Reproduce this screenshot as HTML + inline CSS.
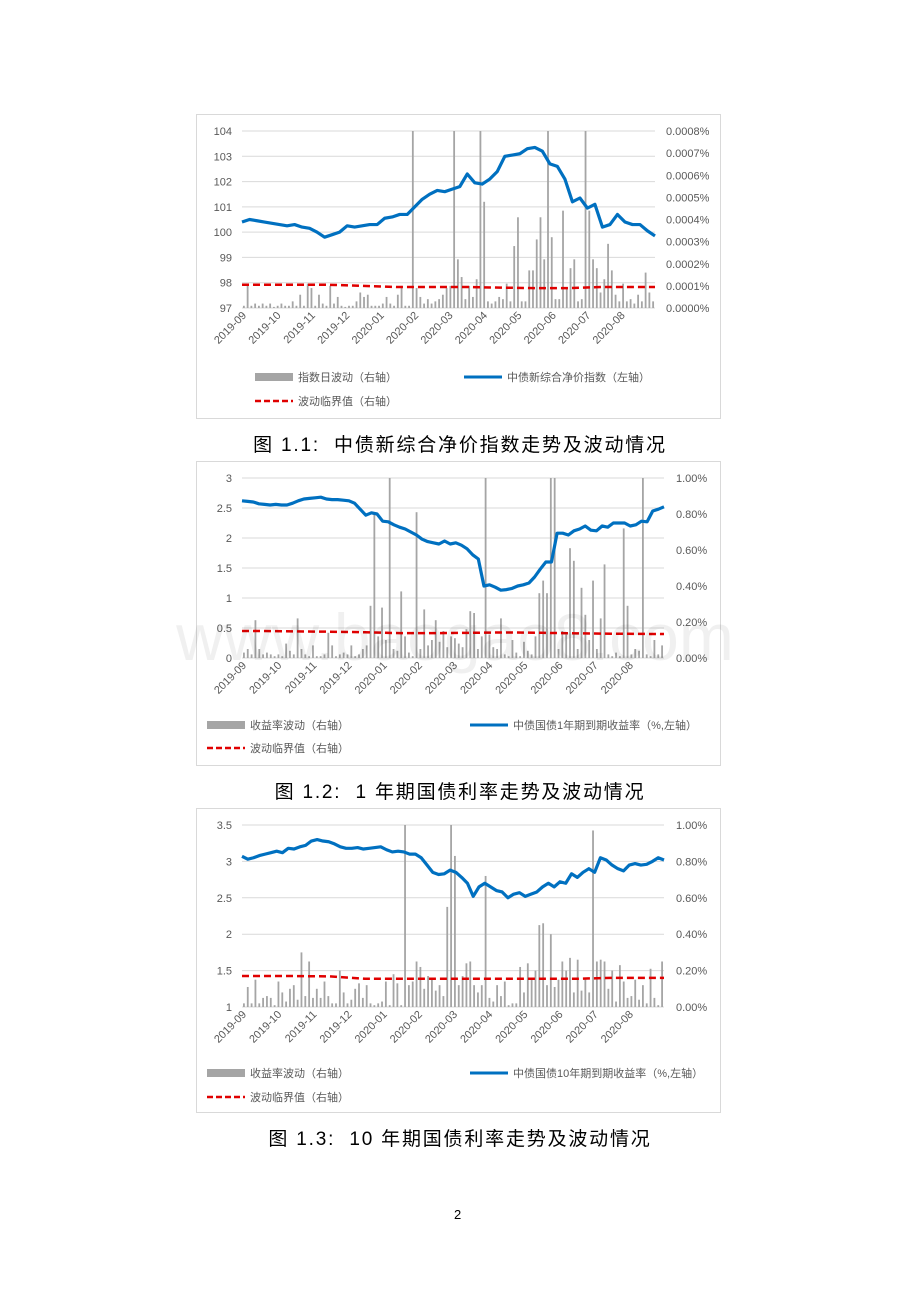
<!DOCTYPE html>
<html><head><meta charset="utf-8">
<style>
body{margin:0;background:#fff;width:920px;height:1302px;position:relative;overflow:hidden;font-family:"Liberation Sans","Noto Sans CJK SC",sans-serif;}
.box{position:absolute;left:196px;width:525px;height:305px;border:1px solid #d9d9d9;box-sizing:border-box;}
.cap{position:absolute;left:0;width:920px;text-align:center;font-size:19px;color:#000;font-family:"Liberation Sans","Noto Sans CJK SC",sans-serif;letter-spacing:1.8px;}
svg{position:absolute;left:0;top:0;}
</style></head><body>
<div class="box" style="top:114px"></div>
<div class="box" style="top:461px"></div>
<div class="box" style="top:808px"></div>
<div class="cap" style="top:430px">图 1.1:&nbsp; 中债新综合净价指数走势及波动情况</div>
<div class="cap" style="top:777px">图 1.2:&nbsp; 1 年期国债利率走势及波动情况</div>
<div class="cap" style="top:1124px">图 1.3:&nbsp; 10 年期国债利率走势及波动情况</div>
<div style="position:absolute;left:454px;top:1207px;font-size:13px">2</div>
<svg id="svg" width="920" height="1302"></svg>
<script>
const months=["2019-09","2019-10","2019-11","2019-12","2020-01","2020-02","2020-03","2020-04","2020-05","2020-06","2020-07","2020-08"];
const line1=[100.4,100.5,100.45,100.4,100.35,100.3,100.25,100.3,100.2,100.15,100.0,99.8,99.9,100.0,100.25,100.2,100.25,100.3,100.3,100.55,100.6,100.7,100.7,101.0,101.3,101.5,101.65,101.6,101.7,101.8,102.3,101.95,101.9,102.1,102.4,103.0,103.05,103.1,103.3,103.35,103.2,102.7,102.6,102.1,101.2,101.35,100.95,101.1,100.2,100.3,100.7,100.4,100.3,100.3,100.05,99.85];
const bars1=[0.1,1.1,0.1,0.2,0.1,0.2,0.1,0.2,0.05, 0.1,0.2,0.1,0.1,0.3,0.1,0.6,0.1,1.1, 0.9,0.1,0.6,0.2,0.1,1.0,0.2,0.5,0.1, 0.05,0.1,0.1,0.3,0.7,0.5,0.6,0.1,0.1, 0.1,0.2,0.5,0.2,0.1,0.6,1.0,0.1,0.1, 8,0.9,0.5,0.2,0.4,0.2,0.3,0.4,0.6, 0.9,1.0,8,2.2,1.4,0.4,1.0,0.5,1.3, 8,4.8,0.3,0.2,0.3,0.5,0.4,1.1,0.3, 2.8,4.1,0.3,0.3,1.7,1.7,3.1,4.1,2.2, 8,3.2,0.4,0.4,4.4,0.9,1.8,2.2,0.3, 0.4,8,4.4,2.2,1.8,0.7,1.3,2.9,1.7, 0.6,0.3,1.1,0.3,0.4,0.2,0.6,0.3,1.6,0.7,0.3];
const thr1=[1.05,1.05,1.05,1.0,0.95,0.95,0.95,0.92,0.9,0.9,0.95,0.95];
const leftTicks1=[97,98,99,100,101,102,103,104];
const rightTicks1=["0.0000%","0.0001%","0.0002%","0.0003%","0.0004%","0.0005%","0.0006%","0.0007%","0.0008%"];

const line2=[2.62,2.61,2.6,2.57,2.56,2.55,2.56,2.55,2.55,2.58,2.62,2.65,2.66,2.67,2.68,2.65,2.64,2.64,2.63,2.62,2.58,2.48,2.38,2.42,2.4,2.28,2.27,2.22,2.18,2.15,2.1,2.05,1.98,1.94,1.92,1.9,1.95,1.9,1.92,1.88,1.82,1.72,1.65,1.2,1.22,1.18,1.13,1.14,1.16,1.2,1.22,1.25,1.35,1.48,1.6,1.6,2.08,2.08,2.05,2.12,2.15,2.2,2.13,2.12,2.2,2.18,2.25,2.25,2.25,2.2,2.22,2.28,2.27,2.45,2.48,2.52];
const bars2=[0.03,0.05,0.02,0.21,0.05,0.02,0.03,0.02,0.01, 0.02,0.01,0.08,0.04,0.02,0.22,0.05,0.02,0.01, 0.07,0.01,0.01,0.02,0.14,0.07,0.01,0.02,0.03, 0.02,0.07,0.01,0.02,0.05,0.07,0.29,0.8,0.12, 0.28,0.1,1,0.05,0.04,0.37,0.12,0.03,0.01, 0.81,0.05,0.27,0.07,0.1,0.21,0.09,0.15,0.06, 0.12,0.11,0.08,0.06,0.16,0.26,0.25,0.05,0.12, 1,0.13,0.06,0.05,0.22,0.02,0.01,0.1,0.03, 0.01,0.09,0.04,0.02,0.12,0.36,0.43,0.36,1, 1,0.05,0.15,0.13,0.61,0.54,0.05,0.39,0.24, 0.1,0.43,0.05,0.22,0.52,0.02,0.01,0.03,0.01, 0.72,0.29,0.02,0.05,0.04,1,0.02,0.01,0.1,0.02,0.07];
const thr2=[0.15,0.148,0.146,0.143,0.138,0.138,0.14,0.142,0.14,0.137,0.135,0.133];
const leftTicks2=[0,0.5,1,1.5,2,2.5,3];
const rightTicks2=["0.00%","0.20%","0.40%","0.60%","0.80%","1.00%"];

const line3=[3.07,3.03,3.05,3.08,3.1,3.12,3.14,3.12,3.18,3.17,3.2,3.22,3.28,3.3,3.28,3.27,3.24,3.2,3.18,3.18,3.19,3.17,3.18,3.19,3.2,3.16,3.13,3.14,3.13,3.1,3.1,3.05,2.95,2.85,2.82,2.83,2.88,2.85,2.78,2.7,2.52,2.65,2.7,2.65,2.6,2.58,2.5,2.55,2.57,2.52,2.55,2.58,2.65,2.7,2.65,2.72,2.7,2.83,2.78,2.85,2.9,2.85,3.05,3.02,2.95,2.9,2.87,2.95,2.97,2.95,2.96,3.0,3.05,3.02];
const bars3=[0.02,0.11,0.02,0.15,0.02,0.05,0.06,0.05,0.01, 0.14,0.08,0.03,0.1,0.12,0.04,0.3,0.06,0.25, 0.05,0.1,0.05,0.14,0.06,0.02,0.02,0.2,0.08, 0.02,0.04,0.1,0.13,0.05,0.12,0.02,0.01,0.02, 0.03,0.14,0.01,0.18,0.13,0.01,1,0.12,0.14, 0.25,0.22,0.1,0.17,0.15,0.09,0.12,0.06,0.55, 1,0.83,0.12,0.17,0.24,0.25,0.12,0.08,0.12, 0.72,0.05,0.03,0.12,0.06,0.14,0.01,0.02,0.02, 0.22,0.08,0.24,0.15,0.2,0.45,0.46,0.12,0.4, 0.11,0.15,0.25,0.2,0.27,0.08,0.26,0.09,0.16, 0.08,0.97,0.25,0.26,0.25,0.1,0.2,0.03,0.23, 0.14,0.05,0.06,0.15,0.04,0.12,0.02,0.21,0.05,0.01,0.25];
const thr3=[0.17,0.17,0.168,0.155,0.155,0.155,0.155,0.155,0.155,0.155,0.16,0.16];
const leftTicks3=[1,1.5,2,2.5,3,3.5];
const rightTicks3=["0.00%","0.20%","0.40%","0.60%","0.80%","1.00%"];

const NS="http://www.w3.org/2000/svg";
const svg=document.getElementById('svg');
function mk(tag,attrs,parent){const e=document.createElementNS(NS,tag);for(const k in attrs)e.setAttribute(k,attrs[k]);(parent||svg).appendChild(e);return e;}

function chart(n,c){
  const g=mk('g',{});
  
  
  const yL=v=>c.bottom-(v-c.lmin)/(c.lmax-c.lmin)*(c.bottom-c.top);
  const yR=v=>c.bottom-Math.min(v,c.rmax)/c.rmax*(c.bottom-c.top);
  const xL=i=>c.left+i/(c.line.length-1)*(c.right-c.left);
  const xB=i=>c.left+(i+0.5)/c.bars.length*(c.right-c.left);
  const xM=i=>c.left+i/12*(c.right-c.left);
  c.lt.forEach(v=>{
    const ln=mk('line',{x1:c.left,x2:c.right,y1:yL(v),y2:yL(v),stroke:'#d9d9d9','stroke-width':1},g);
    
    
    const t=mk('text',{x:c.left-10,y:yL(v)+4,'text-anchor':'end','font-size':11,fill:'#595959'},g);
    t.textContent=v;
    
    
  });
  c.rt.forEach((s,i)=>{
    const y=c.bottom-i/(c.rt.length-1)*(c.bottom-c.top);
    const t=mk('text',{x:c.rx,y:y+4,'font-size':11,fill:'#595959'},g);
    t.textContent=s;
    
    
  });
  c.bars.forEach((v,i)=>{
    const y=yR(v);
    const r=mk('rect',{x:xB(i)-0.9,y:y,width:1.8,height:c.bottom-y,fill:'#a5a5a5'},g);
    
    
  });
  const tp=c.thr.map((v,i)=>xM(i+(i==11?1:0.5))+','+yR(v));
  tp.unshift(c.left+','+yR(c.thr[0]));
  const th=mk('polyline',{points:tp.join(' '),fill:'none',stroke:'#e00000','stroke-width':2.5,'stroke-dasharray':'7,4'},g);
  
  
  const pl=mk('polyline',{points:c.line.map((v,i)=>xL(i)+','+yL(v)).join(' '),fill:'none',stroke:'#0070c0','stroke-width':3.2,'stroke-linejoin':'round'},g);
  
  
  months.forEach((m,i)=>{
    const x=xM(i),y=c.bottom+8;
    const t=mk('text',{x:x+5,y:y,'text-anchor':'end','font-size':11,fill:'#595959',transform:`rotate(-45 ${x+5} ${y})`},g);
    t.textContent=m;
    
    
  });
  const L=c.leg;
  const r1=mk('rect',{x:L.x1,y:L.y1-4,width:38,height:8,fill:'#a5a5a5'},g);
  
  
  const t1=mk('text',{x:L.x1+43,y:L.y1+4,'font-size':11,fill:'#595959'},g);t1.textContent=c.names[0];
  
  
  const l2=mk('line',{x1:L.x2,x2:L.x2+38,y1:L.y1,y2:L.y1,stroke:'#0070c0','stroke-width':3},g);
  
  
  const t2=mk('text',{x:L.x2+43,y:L.y1+4,'font-size':11,fill:'#595959'},g);t2.textContent=c.names[1];
  
  
  const l3=mk('line',{x1:L.x1,x2:L.x1+38,y1:L.y2,y2:L.y2,stroke:'#e00000','stroke-width':2.5,'stroke-dasharray':'6,3'},g);
  
  
  const t3=mk('text',{x:L.x1+43,y:L.y2+4,'font-size':11,fill:'#595959'},g);t3.textContent=c.names[2];
  
  
}
chart(1,{left:242,right:655,top:131,bottom:308,lmin:97,lmax:104,rmax:8,rx:666,lt:leftTicks1,rt:rightTicks1,line:line1,bars:bars1,thr:thr1,
  leg:{x1:255,x2:464,y1:377,y2:401},names:["指数日波动（右轴）","中债新综合净价指数（左轴）","波动临界值（右轴）"]});
chart(2,{left:242,right:664,top:478,bottom:658,lmin:0,lmax:3,rmax:1,rx:676,lt:leftTicks2,rt:rightTicks2,line:line2,bars:bars2,thr:thr2,
  leg:{x1:207,x2:470,y1:725,y2:748},names:["收益率波动（右轴）","中债国债1年期到期收益率（%,左轴）","波动临界值（右轴）"]});
chart(3,{left:242,right:664,top:825,bottom:1007,lmin:1,lmax:3.5,rmax:1,rx:676,lt:leftTicks3,rt:rightTicks3,line:line3,bars:bars3,thr:thr3,
  leg:{x1:207,x2:470,y1:1073,y2:1097},names:["收益率波动（右轴）","中债国债10年期到期收益率（%,左轴）","波动临界值（右轴）"]});
const wm=mk('text',{x:455,y:660,'text-anchor':'middle','font-size':66,fill:'#000','fill-opacity':0.06});
wm.textContent='www.baogao8.com';


</script>
</body></html>
